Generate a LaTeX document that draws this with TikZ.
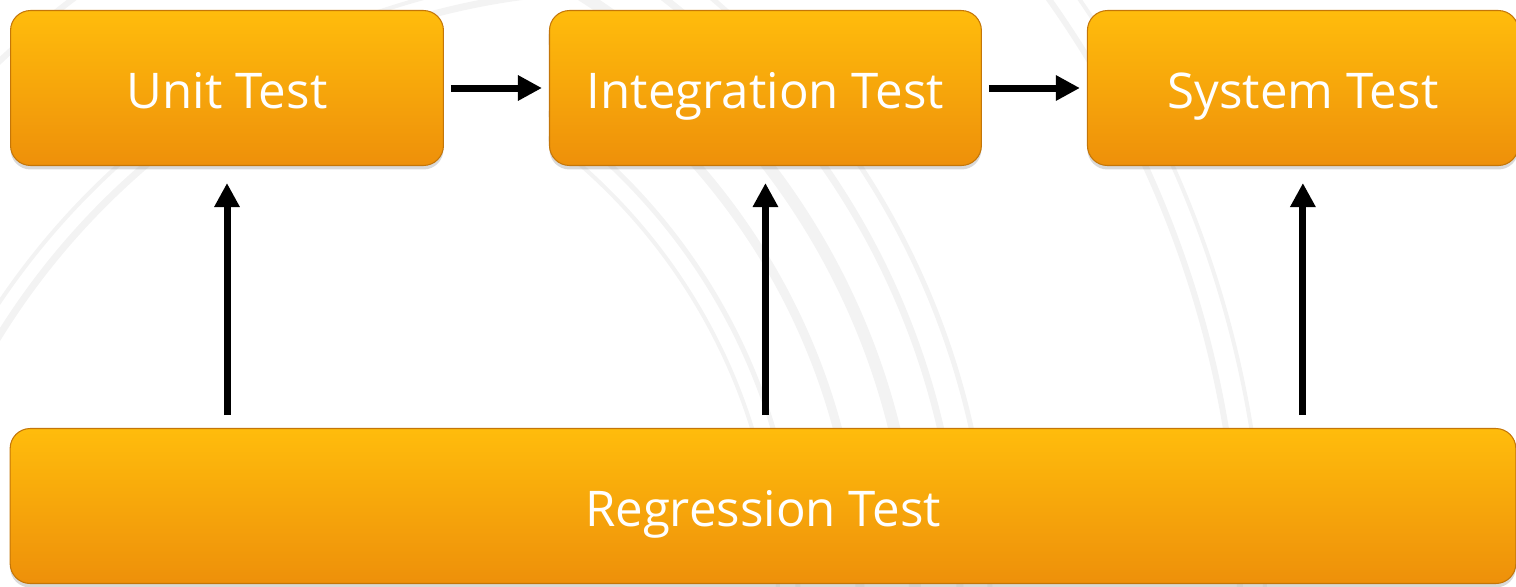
\documentclass[tikz,border=0pt]{standalone}
\usepackage{fontspec}
\setmainfont{Open Sans}
\usetikzlibrary{arrows.meta,positioning,shadows}

\definecolor{boxtop}{RGB}{255,188,12}
\definecolor{boxbot}{RGB}{238,144,10}
\definecolor{boxrim}{RGB}{196,118,8}
\definecolor{ringgray}{RGB}{243,243,243}

\begin{document}
\begin{tikzpicture}[x=0.02cm,y=-0.02cm,
    stage/.style={rounded corners=0.4cm, top color=boxtop, bottom color=boxbot,
      draw=boxrim, line width=0.6pt, text=white, inner sep=0pt,
      font=\fontsize{28}{32}\selectfont, minimum height=3.1cm,
      text height=0.82cm, text depth=0cm,
      drop shadow={opacity=0.3,shadow xshift=0pt,shadow yshift=-0.08cm}},
    flow/.style={line width=0.14cm, -{Triangle[length=0.48cm,width=0.48cm]}},
    ring/.style={draw=ringgray, line width=#1}]
  \useasboundingbox (0,0) rectangle (1516,586);

  % faint rings in the background
  \begin{scope}
    \clip (0,0) rectangle (548,586);
    \draw[ring=0.14cm] (620,720) circle[radius=730];
    \draw[ring=0.08cm] (620,720) circle[radius=748];
    \draw[ring=0.12cm] (620,720) circle[radius=905];
  \end{scope}
  \begin{scope}
    \clip (548,0) rectangle (1330,586);
    \draw[ring=0.08cm] (200,600) circle[radius=578];
    \draw[ring=0.10cm] (200,600) circle[radius=598];
    \draw[ring=0.18cm] (200,600) circle[radius=660];
    \draw[ring=0.24cm] (200,600) circle[radius=715];
    \draw[ring=0.14cm] (200,600) circle[radius=760];
    \draw[ring=0.10cm] (200,600) circle[radius=790];
    \draw[ring=0.12cm] (200,600) circle[radius=1040];
    \draw[ring=0.08cm] (200,600) circle[radius=1065];
  \end{scope}

  % test stages
  \node[stage, minimum width=8.66cm] (unit) at (227,88) {Unit Test};
  \node[stage, minimum width=8.64cm, right=2.1cm of unit] (integ) {Integration Test};
  \node[stage, minimum width=8.62cm, right=2.1cm of integ] (sys) {System Test};
  \node[stage, minimum width=30.12cm] (regr) at (763,506) {Regression Test};

  % connectors
  \draw[flow, shorten <=0.14cm, shorten >=0.14cm] (unit) -- (integ);
  \draw[flow, shorten <=0.14cm, shorten >=0.14cm] (integ) -- (sys);
  \foreach \n in {unit,integ,sys}
    \draw[flow, shorten <=0.26cm, shorten >=0.34cm] (regr.north -| \n) -- (\n);
\end{tikzpicture}
\end{document}
